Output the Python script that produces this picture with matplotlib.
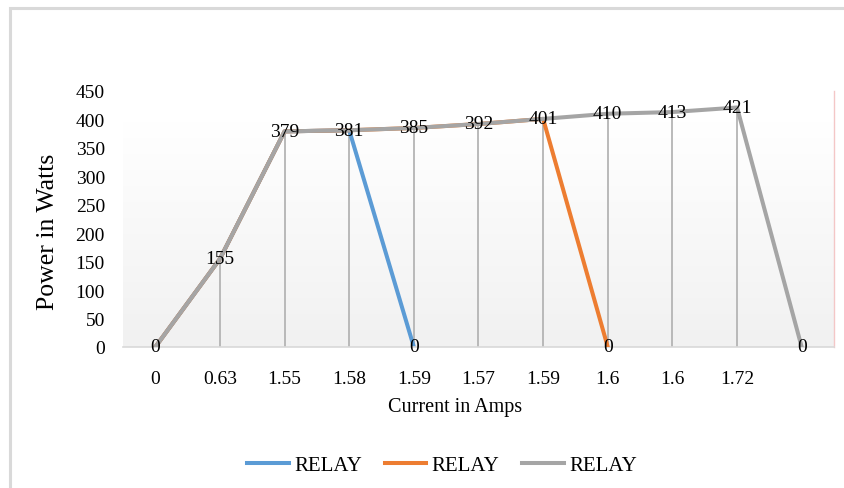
import numpy as np
import matplotlib
matplotlib.use("Agg")
import matplotlib.pyplot as plt
from matplotlib.lines import Line2D
from matplotlib.patches import Rectangle

plt.rcParams['font.family'] = ['Liberation Serif', 'DejaVu Serif']

# Category labels on the x axis (current readings, last slot unlabeled)
categories = ["0", "0.63", "1.55", "1.58", "1.59", "1.57", "1.59", "1.6", "1.6", "1.72", ""]

# Power readings for each relay trip run
relay_blue = [0, 155, 379, 381, 0]
relay_orange = [0, 155, 379, 381, 385, 392, 401, 0]
relay_gray = [0, 155, 379, 381, 385, 392, 401, 410, 413, 421, 0]

y_ticks = [0, 50, 100, 150, 200, 250, 300, 350, 400, 450]

W, H = 845, 489
fig = plt.figure(figsize=(W / 100, H / 100), dpi=100)
fig.patch.set_facecolor("white")

# Outer chart frame
fig.patches.append(Rectangle((10 / W, -0.1), 1.2, (H - 9) / H + 0.1,
                             transform=fig.transFigure, fill=False,
                             edgecolor="#d9d9d9", linewidth=2.2))

ax = fig.add_axes([123 / W, (H - 348) / H, (834 - 123) / W, (348 - 92) / H])
ax.set_xlim(-0.5, len(categories) - 0.5)
ax.set_ylim(0, 450)

# Plot-area background: white at the top fading to light gray
grad = np.linspace(0, 1, 256)
shade = np.clip(grad / 0.88, 0, 1)  # 0 at bottom -> 1 near top
vals = 0.945 + (1.0 - 0.945) * shade
img = np.repeat(vals[:, None, None], 3, axis=2).repeat(2, axis=1)
ax.imshow(img, extent=(-0.5, len(categories) - 0.5, 0, 450),
          origin="lower", aspect="auto", zorder=0)

for s in ["top", "left"]:
    ax.spines[s].set_visible(False)
ax.spines["right"].set_color("#f4c7c7")
ax.spines["right"].set_linestyle((0, (1, 1)))
ax.spines["right"].set_linewidth(1.0)
ax.spines["bottom"].set_color("#d9d9d9")
ax.spines["bottom"].set_linewidth(1.2)

x_all = np.arange(len(relay_gray))

# Drop lines from each point to the category axis
ax.vlines(x_all, 0, relay_gray, colors="#b4b4b4", linewidth=1.3, zorder=1)

ax.plot(np.arange(len(relay_blue)), relay_blue, color="#5b9bd5", linewidth=2.9,
        solid_capstyle="round", zorder=2)
ax.plot(np.arange(len(relay_orange)), relay_orange, color="#ed7d31", linewidth=2.9,
        solid_capstyle="round", zorder=3)
ax.plot(x_all, relay_gray, color="#a5a5a5", linewidth=2.9,
        solid_capstyle="round", zorder=4)

# Value labels centered on the points
label_pts = [(i, v) for i, v in enumerate(relay_gray)]
label_pts += [(len(relay_blue) - 1, relay_blue[-1]), (len(relay_orange) - 1, relay_orange[-1])]
for i, v in label_pts:
    ax.text(i, v, str(v), ha="center", va="center", fontsize=14, color="#000000", zorder=5)

ax.set_xticks(x_all)
ax.set_xticklabels(categories, fontsize=14)
ax.set_yticks(y_ticks)
ax.set_yticklabels([str(t) for t in y_ticks], fontsize=14)
ax.tick_params(axis="both", length=0)
ax.tick_params(axis="x", pad=16.5)
ax.tick_params(axis="y", pad=13)

# Axis titles
fig.text(455 / W, 1 - 408 / H, "Current in Amps", fontsize=14.5, ha="center", va="center")
fig.text(48 / W, 1 - 232 / H, "Power in Watts", fontsize=18.5, ha="center", va="center",
         rotation=90)

handles = [Line2D([], [], color=c, linewidth=2.9) for c in ["#5b9bd5", "#ed7d31", "#a5a5a5"]]
fig.legend(handles, ["RELAY", "RELAY", "RELAY"], loc="center",
           bbox_to_anchor=(442 / W, 1 - 466 / H), ncol=3, frameon=False,
           fontsize=15, handlelength=2.0, columnspacing=1.1, handletextpad=0.25)

fig.savefig("out.png", dpi=100, facecolor="white")
